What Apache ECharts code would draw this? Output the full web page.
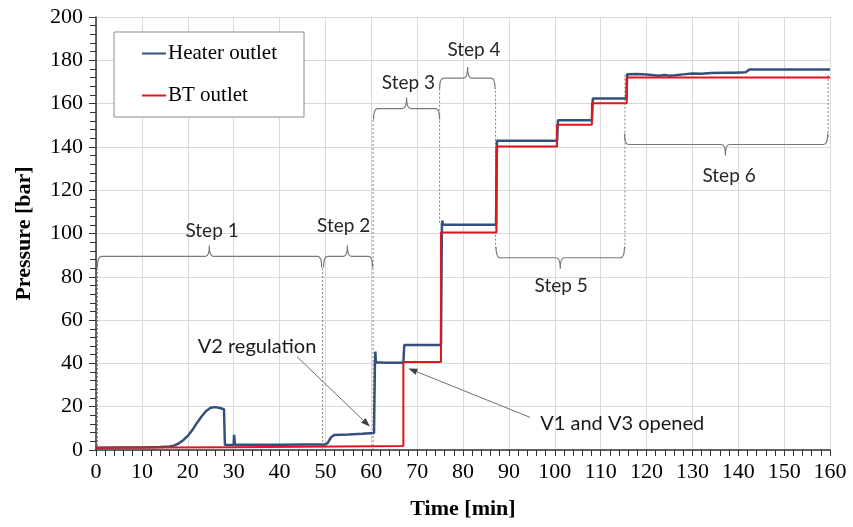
<!DOCTYPE html>
<html>
<head>
<meta charset="utf-8">
<script src="https://cdn.jsdelivr.net/npm/echarts@6/dist/echarts.min.js"></script>
<style>html,body{margin:0;padding:0;background:#fff;}#c{width:853px;height:527px;}</style>
</head>
<body>
<div id="c"></div>
<script>
// ---- data ----
const heaterTime = [0,5,10,14,16,17,18,19,20,21,22,23,24,25,26,27,27.9,28.1,30.0,30.1,30.3,35,40,45,50,50.6,51.2,51.9,55,58,60.6,60.8,60.9,61.0,63,67,67.2,75.2,75.4,75.5,75.6,87.2,87.4,100.5,100.7,108.1,108.3,115.6,115.8,118,120,122.7,124,125,126.3,128,130,132,134,137.3,139,141.6,142.4,160];
const heaterPressure = [1.0,1.1,1.2,1.4,1.6,2.0,3.0,4.5,6.5,9.2,12.5,15.5,18.0,19.5,19.8,19.4,18.8,2.4,2.3,7.0,2.4,2.4,2.4,2.5,2.5,3.5,5.8,6.9,7.2,7.5,7.8,40,45.5,40.5,40.3,40.3,48.5,48.5,104,106,104,104,142.8,142.8,152.3,152.3,162.3,162.3,173.6,173.7,173.4,172.9,173.2,172.9,173.1,173.5,173.9,173.8,174.1,174.3,174.2,174.5,175.7,175.7];
const btTime = [0,30,67.0,67.0,75.2,75.2,87.3,87.3,100.5,100.5,108.1,108.1,115.7,115.7,160];
const btPressure = [1.0,1.3,1.8,40.6,40.6,100.5,100.5,140.2,140.2,150.2,150.2,160.2,160.2,172,172];

const xTicks = [0,10,20,30,40,50,60,70,80,90,100,110,120,130,140,150,160];
const yTicks = [0,20,40,60,80,100,120,140,160,180,200];

// step brackets
const stepNames = ['Step 1','Step 2','Step 3','Step 4','Step 5','Step 6'];
const stepStart = [0.3,49.6,60.5,74.9,87.2,115.2];
const stepEnd   = [49.2,60.3,74.9,87.0,115.2,159.5];
const stepLevel = [89.4,89.4,157.7,171.8,88.8,141.1];
const stepTip   = [24.7,54.8,67.7,81.0,101.2,137.2];
const stepOpensDown = [1,1,1,1,0,0];
const stepLabelT = [25.3,54.0,68.1,82.4,101.4,138.0];
const stepLabelP = [101.2,103.4,169.7,184.6,76.0,126.5];

// dotted guide lines
const guideT    = [0.3,49.4,60.4,74.9,87.1,115.3,159.6];
const guideFrom = [0,0,0,105,93,93,144.6];
const guideTo   = [84,84,153,170,167,173.5,173.8];

// annotations
const noteText = ['V2 regulation','V1 and V3 opened'];
const noteT = [35.1,114.7];
const noteP = [47.7,12.3];
const arrowFromT = [43.8,94.6];
const arrowFromP = [43.1,15.1];
const arrowToT = [59.7,68.1];
const arrowToP = [10.8,37.7];

// ---- chart ----
const chart = echarts.init(document.getElementById('c'), null, {renderer:'canvas'});
const serif = '"Liberation Serif","Times New Roman",serif';
const sans = 'Lato,"Open Sans",sans-serif';
const guideColor = '#808080';

function zip(a,b){return a.map((v,i)=>[v,b[i]]);}

const stepData = stepNames.map((n,i)=>[stepStart[i],stepEnd[i],stepLevel[i],stepTip[i],stepOpensDown[i],stepLabelT[i],stepLabelP[i],i]);
const guideData = guideT.map((t,i)=>[t,guideFrom[i],guideTo[i]]);
const noteData = noteText.map((n,i)=>[noteT[i],noteP[i],arrowFromT[i],arrowFromP[i],arrowToT[i],arrowToP[i],i]);

const option = {
  animation:false,
  backgroundColor:'#fff',
  grid:{left:96,right:23,top:17,bottom:77,containLabel:false},
  xAxis:{
    type:'value',min:0,max:160,interval:10,
    name:'Time [min]',nameLocation:'middle',nameGap:48,
    nameTextStyle:{fontFamily:serif,fontWeight:'bold',fontSize:22,color:'#000'},
    axisLine:{show:true,onZero:false,lineStyle:{color:'#333',width:1.5}},
    axisTick:{show:true,inside:false,length:6,lineStyle:{color:'#333'}},
    minorTick:{show:true,splitNumber:5,length:6,lineStyle:{color:'#333'}},
    axisLabel:{fontFamily:serif,fontSize:22,color:'#000',margin:11,
      formatter:v=>xTicks.indexOf(v)>=0?String(v):''},
    splitLine:{show:true,lineStyle:{color:'#d9d9d9',width:1}}
  },
  yAxis:{
    type:'value',min:0,max:200,interval:20,
    name:'Pressure [bar]',nameLocation:'middle',nameGap:61,nameRotate:90,
    nameTextStyle:{fontFamily:serif,fontWeight:'bold',fontSize:22,color:'#000'},
    axisLine:{show:true,onZero:false,lineStyle:{color:'#333',width:1.5}},
    axisTick:{show:true,length:7,lineStyle:{color:'#333'}},
    minorTick:{show:true,splitNumber:5,length:6,lineStyle:{color:'#333'}},
    axisLabel:{fontFamily:serif,fontSize:22,color:'#000',margin:13,
      formatter:v=>yTicks.indexOf(v)>=0?String(v):''},
    splitLine:{show:true,lineStyle:{color:'#d9d9d9',width:1}}
  },
  legend:{
    orient:'vertical',left:114,top:32,
    backgroundColor:'#fff',borderColor:'#8c8c8c',borderWidth:1,
    padding:[11,27,11,28],itemGap:21,itemWidth:24,itemHeight:2,icon:'rect',
    textStyle:{fontFamily:serif,fontSize:21,color:'#000',padding:[0,0,0,-3]},
    data:['Heater outlet','BT outlet']
  },
  series:[
    {
      type:'custom',name:'guides',silent:true,z:1,
      data:guideData,
      renderItem:(params,api)=>{
        const a = api.coord([api.value(0),api.value(1)]);
        const b = api.coord([api.value(0),api.value(2)]);
        return {type:'line',shape:{x1:a[0],y1:a[1],x2:b[0],y2:b[1]},
          style:{stroke:guideColor,lineWidth:1,lineDash:[2,2]}};
      }
    },
    {
      type:'custom',name:'steps',silent:true,z:1,
      data:stepData,
      renderItem:(params,api)=>{
        const p1 = api.coord([api.value(0),api.value(2)]);
        const p2 = api.coord([api.value(1),api.value(2)]);
        const pm = api.coord([api.value(3),api.value(2)]);
        const down = api.value(4) === 1;
        const d = (down?1:-1)*11;   // ends
        const t = (down?-1:1)*11;   // tip
        const r = 4;
        const y = p1[1];
        const x1 = p1[0], x2 = p2[0], xm = pm[0];
        const path = 'M'+x1+' '+(y+d)+' Q'+x1+' '+y+' '+(x1+r)+' '+y+
          ' L'+(xm-r)+' '+y+' Q'+xm+' '+y+' '+xm+' '+(y+t)+
          ' Q'+xm+' '+y+' '+(xm+r)+' '+y+
          ' L'+(x2-r)+' '+y+' Q'+x2+' '+y+' '+x2+' '+(y+d);
        const lp = api.coord([api.value(5),api.value(6)]);
        return {type:'group',children:[
          {type:'path',shape:{pathData:path},style:{stroke:'#7a7a7a',lineWidth:1.2,fill:null}},
          {type:'text',x:lp[0],y:lp[1],style:{text:stepNames[api.value(7)],align:'center',verticalAlign:'middle',
            font:'19px '+sans,fill:'#262626'}}
        ]};
      }
    },
    {
      type:'custom',name:'notes',silent:true,z:1,
      data:noteData,
      renderItem:(params,api)=>{
        const tp = api.coord([api.value(0),api.value(1)]);
        const a = api.coord([api.value(2),api.value(3)]);
        const b = api.coord([api.value(4),api.value(5)]);
        const ang = Math.atan2(b[1]-a[1],b[0]-a[0]);
        const L = 9, W = 3.2;
        const bx = b[0]-L*Math.cos(ang), by = b[1]-L*Math.sin(ang);
        const px = -Math.sin(ang)*W, py = Math.cos(ang)*W;
        return {type:'group',children:[
          {type:'line',shape:{x1:a[0],y1:a[1],x2:bx,y2:by},style:{stroke:'#707070',lineWidth:1}},
          {type:'polygon',shape:{points:[[b[0],b[1]],[bx+px,by+py],[bx-px,by-py]]},style:{fill:'#404040'}},
          {type:'text',x:tp[0],y:tp[1],style:{text:noteText[api.value(6)],align:'center',verticalAlign:'middle',
            font:'20px '+sans,fill:'#1a1a1a'}}
        ]};
      }
    },
    {
      type:'line',name:'Heater outlet',z:3,
      data:zip(heaterTime,heaterPressure),
      showSymbol:false,symbol:'none',
      lineStyle:{color:'#34507d',width:2.5},
      itemStyle:{color:'#34507d'}
    },
    {
      type:'line',name:'BT outlet',z:4,
      data:zip(btTime,btPressure),
      showSymbol:false,symbol:'none',
      lineStyle:{color:'#e3141b',width:2},
      itemStyle:{color:'#e3141b'}
    }
  ]
};
chart.setOption(option);
</script>
</body>
</html>
